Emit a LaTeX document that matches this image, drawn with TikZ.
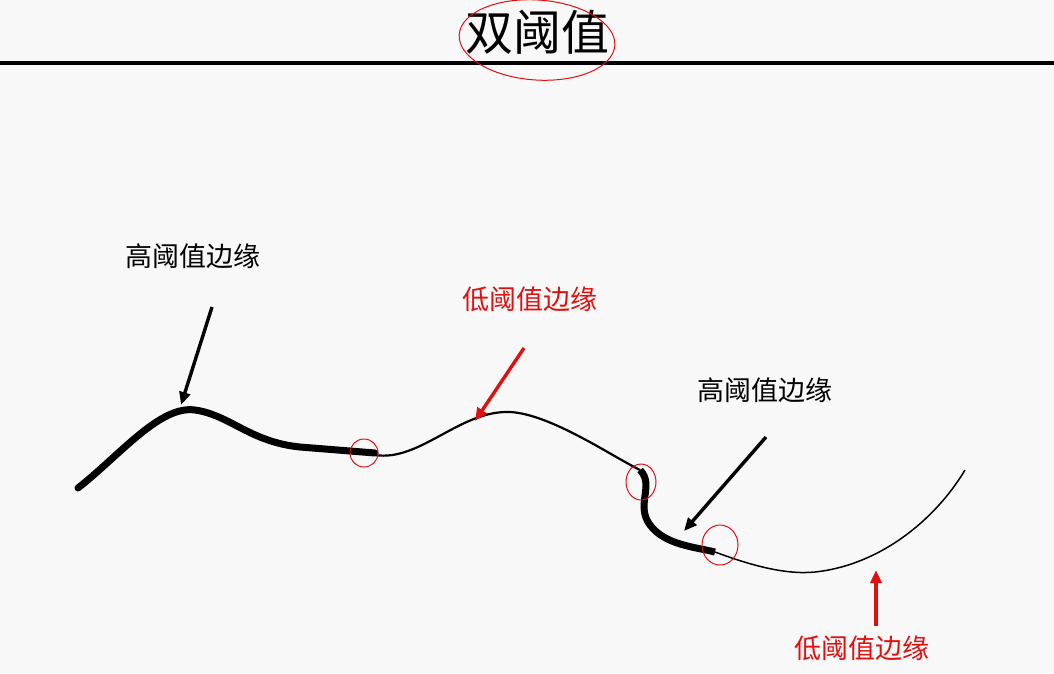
\documentclass[tikz,border=0pt]{standalone}
\usepackage{fontspec}
\newfontfamily\cjk{Noto Sans CJK SC}
\usetikzlibrary{arrows.meta}
\definecolor{paper}{HTML}{F8F8F8}
\definecolor{mark}{HTML}{E01010}
\tikzset{
  label/.style={font={\cjk\fontsize{27}{30}\selectfont}, inner sep=0pt},
  hi/.style={line width=7pt, line cap=round},
  lo/.style={line width=2.2pt},
  ring/.style={draw=mark, line width=1pt},
  pointer/.style={-{Triangle[length=13pt,width=11pt]}, line width=3.4pt}
}
\begin{document}
\begin{tikzpicture}[x=1pt,y=-1pt]
    \fill[paper] (0,0) rectangle (1054,673);
    \useasboundingbox (0,0) rectangle (1054,673);

    % title
    \node[font={\cjk\fontsize{48}{52}\selectfont}, inner sep=0pt] (title) at (537,32) {双阈值};
    \draw[line width=3.5pt] (0,63) -- (1054,63);
    \draw[ring, rotate around={-4:(537,40)}] (537,40) ellipse (78 and 40);

    % edge curve
    \draw[hi] (78,488) .. controls (120,455) and (160,405) .. (195,410)
        .. controls (230,415) and (250,442) .. (300,447) -- (375,453);
    \draw[lo] (375,455) .. controls (420,462) and (460,410) .. (510,412)
        .. controls (550,414) and (610,455) .. (640,470);
    \draw[hi, line cap=butt] (640,470) .. controls (655,485) and (635,505) .. (650,525)
        .. controls (665,545) and (695,547) .. (715,552);
    \draw[lo, line width=1.5pt] (715,552) .. controls (750,565) and (785,575) .. (815,572)
        .. controls (880,565) and (935,520) .. (965,470);

    % junction marks
    \draw[ring] (364,453) circle (14);
    \draw[ring] (641,482) ellipse (15 and 18);
    \draw[ring] (720,545) ellipse (18 and 20);

    % labels and pointers
    \node[label] (hiA) at (193,256) {高阈值边缘};
    \node[label, text=mark] (loA) at (530,299) {低阈值边缘};
    \node[label] (hiB) at (765,390) {高阈值边缘};
    \node[label, text=mark] (loB) at (862,648) {低阈值边缘};

    \coordinate (hiAtip) at (181,405);
    \coordinate (loAtip) at (475,421);
    \coordinate (hiBtip) at (684,531);
    \coordinate (loBtip) at (876,570);
    \draw[pointer] (212,307) -- (hiAtip);
    \draw[pointer, draw=mark, fill=mark] (524,348) -- (loAtip);
    \draw[pointer] (766,437) -- (hiBtip);
    \draw[pointer, draw=mark, fill=mark] (876,626) -- (loBtip);
\end{tikzpicture}
\end{document}
